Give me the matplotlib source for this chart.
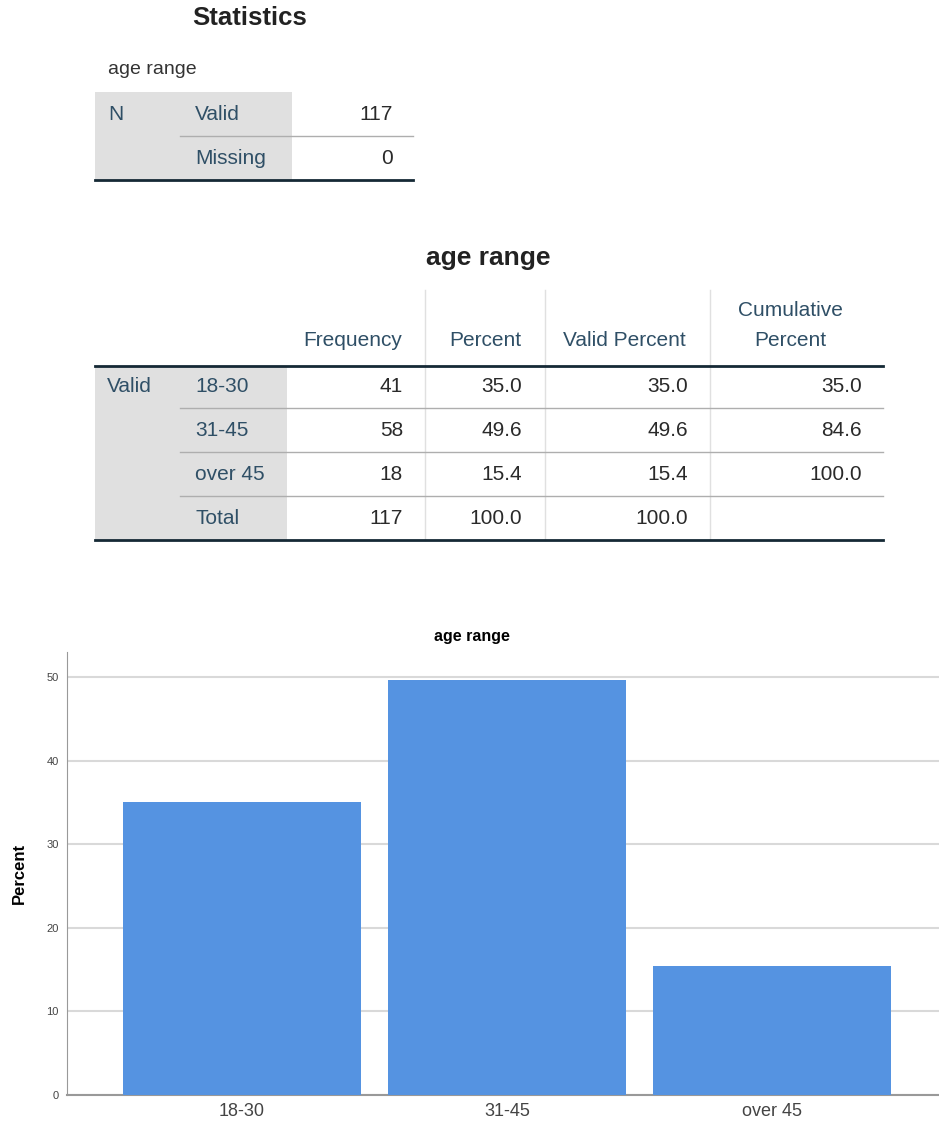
import matplotlib
matplotlib.use('Agg')
import matplotlib.pyplot as plt
from matplotlib.patches import Rectangle

# data
stats_rows = ['Valid', 'Missing']
stats_values = [117, 0]

categories = ['18-30', '31-45', 'over 45']
frequency = [41, 58, 18]
percent = [35.0, 49.6, 15.4]
valid_percent = [35.0, 49.6, 15.4]
cumulative_percent = [35.0, 84.6, 100.0]
total_frequency = 117
total_percent = 100.0

plt.rcParams['font.family'] = ['Liberation Sans', 'DejaVu Sans']

LABEL = '#2f4f66'
SHADE = '#e0e0e0'
DARK = '#152935'
SEP = '#aeaeae'
BAR = '#5593e1'
VAL = '#2a2a2a'
FS = 15

fig = plt.figure(figsize=(9.39, 11.24), dpi=100)

# overlay in pixel coords for the two tables
tab = fig.add_axes([0, 0, 1, 1])
tab.set_xlim(0, 939)
tab.set_ylim(1124, 0)
tab.axis('off')

# --- Statistics table ---
tab.text(250, 18, 'Statistics', fontsize=18.5, fontweight='bold', ha='center', va='center', color='#222222')
tab.text(108, 70, 'age range', fontsize=14, ha='left', va='center', color='#333333')
tab.add_patch(Rectangle((95, 92), 197, 88, color=SHADE, lw=0))
tab.text(108, 114, 'N', fontsize=FS, color=LABEL, va='center')
for i, (lab, val) in enumerate(zip(stats_rows, stats_values)):
    y = 114 + 44 * i
    tab.text(195, y, lab, fontsize=FS, color=LABEL, va='center')
    tab.text(393, y, str(val), fontsize=FS, color=VAL, va='center', ha='right')
tab.plot([180, 413], [136, 136], color=SEP, lw=1)
tab.plot([95, 413], [180, 180], color=DARK, lw=2)

# --- Frequency table ---
tab.text(488, 258, 'age range', fontsize=19, fontweight='bold', ha='center', va='center', color='#222222')
col_x = [425, 545, 710]
for x in col_x:
    tab.plot([x, x], [290, 540], color=SHADE, lw=1)
headers = ['Frequency', 'Percent', 'Valid Percent', 'Percent']
header_x = [353, 485, 624, 790]
for h, x in zip(headers, header_x):
    tab.text(x, 341, h, fontsize=FS, color=LABEL, ha='center', va='center')
tab.text(790, 310, 'Cumulative', fontsize=FS, color=LABEL, ha='center', va='center')
tab.add_patch(Rectangle((95, 366), 192, 174, color=SHADE, lw=0))
tab.plot([95, 883], [366, 366], color=DARK, lw=2)
tab.text(107, 387, 'Valid', fontsize=FS, color=LABEL, va='center')

rows = []
for c, f, p, vp, cp in zip(categories, frequency, percent, valid_percent, cumulative_percent):
    rows.append([c, str(f), f'{p:.1f}', f'{vp:.1f}', f'{cp:.1f}'])
rows.append(['Total', str(total_frequency), f'{total_percent:.1f}', f'{total_percent:.1f}', ''])

value_x = [403, 522, 688, 862]
for i, row in enumerate(rows):
    y = 387 + 43.7 * i
    tab.text(195, y, row[0], fontsize=FS, color=LABEL, va='center')
    for x, s in zip(value_x, row[1:]):
        tab.text(x, y, s, fontsize=FS, color=VAL, va='center', ha='right')
    if i < len(rows) - 1:
        ys = 408 + 44 * i
        tab.plot([180, 883], [ys, ys], color=SEP, lw=1)
tab.plot([95, 883], [540, 540], color=DARK, lw=2)

# --- bar chart ---
ax = fig.add_axes([67 / 939, 29 / 1124, 872 / 939, 443 / 1124])
x = range(len(categories))
ax.bar(x, percent, width=0.9, color=BAR, zorder=3)
ax.set_xlim(-0.66, 2.63)
ax.set_ylim(0, 53)
ax.set_yticks([0, 10, 20, 30, 40, 50])
ax.set_xticks(list(x))
ax.set_xticklabels(categories, fontsize=13, color='#444444')
ax.tick_params(axis='y', labelsize=8, length=0, pad=6, labelcolor='#444444')
ax.tick_params(axis='x', length=0, pad=6)
ax.yaxis.grid(True, color='#d9d9d9', lw=1.5, zorder=0)
ax.set_axisbelow(True)
for s in ['top', 'right']:
    ax.spines[s].set_visible(False)
ax.spines['left'].set_color('#999999')
ax.spines['bottom'].set_color('#999999')
ax.spines['bottom'].set_linewidth(1.5)
ax.set_ylabel('Percent', fontsize=12, fontweight='bold', labelpad=14)
ax.set_title('age range', fontsize=11.5, fontweight='bold', pad=8, x=0.464)

fig.savefig('out.png', dpi=100)
